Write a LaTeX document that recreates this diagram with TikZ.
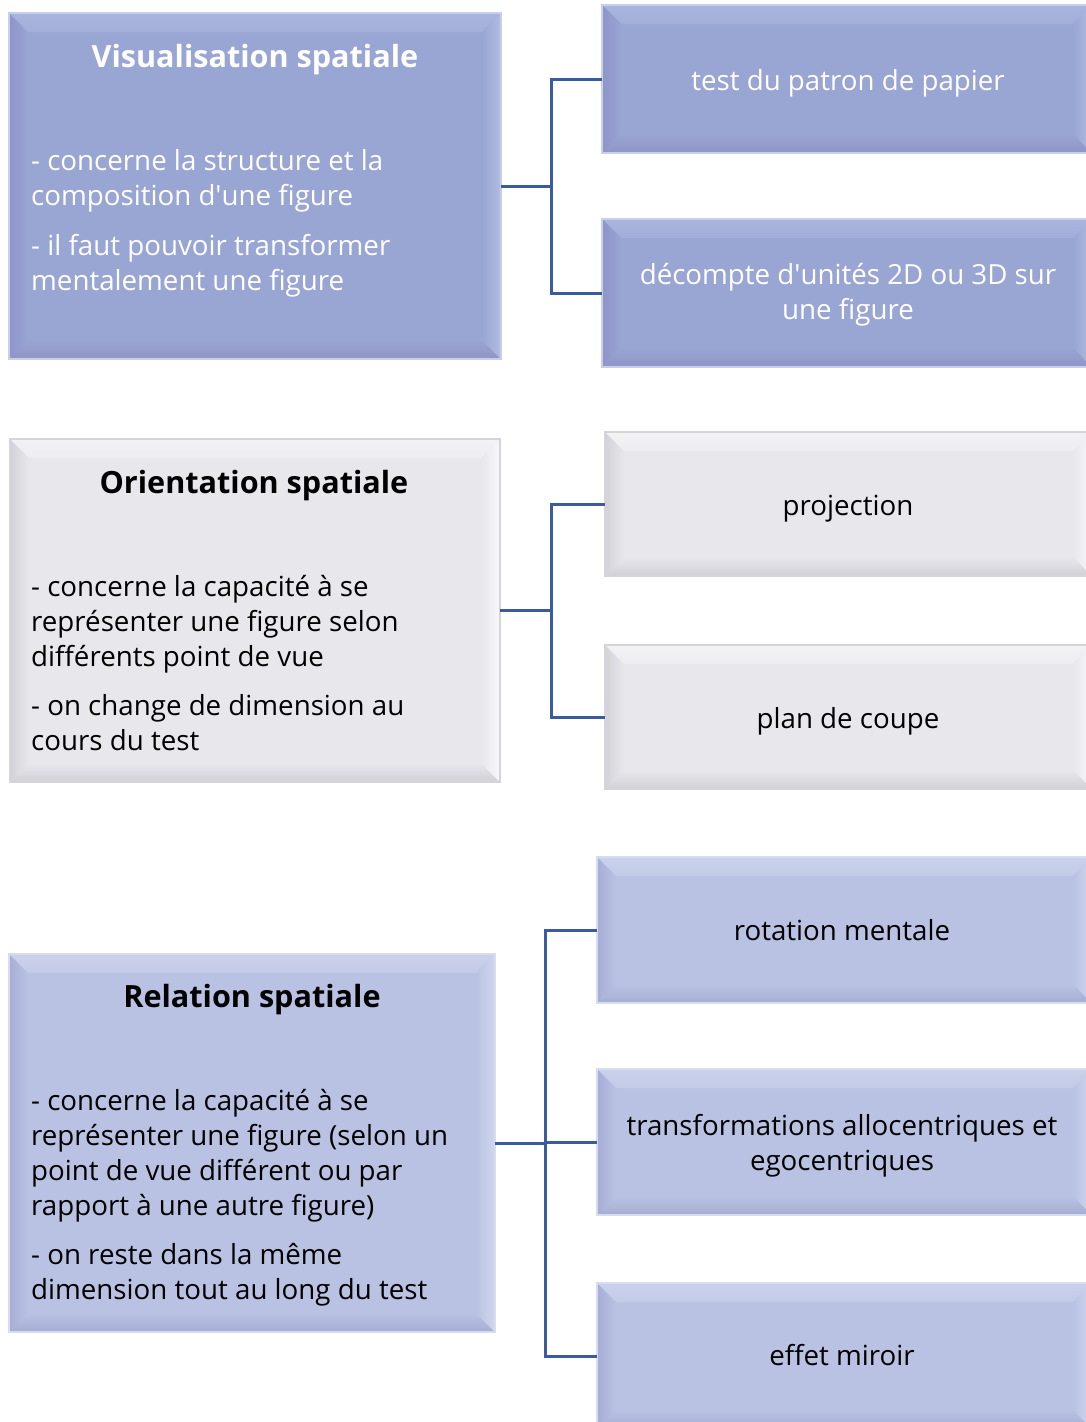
\documentclass[tikz,border=0pt]{standalone}
\usepackage{fontspec}
\setmainfont{Open Sans}
\usetikzlibrary{calc}
\definecolor{bAmain}{HTML}{99A5D3}
\definecolor{bAtop}{HTML}{A9B5DE}
\definecolor{bAleft}{HTML}{8E95C7}
\definecolor{bAbot}{HTML}{9095C6}
\definecolor{bAright}{HTML}{B2BDE2}
\definecolor{bAbord}{HTML}{C8CFEC}
\definecolor{bBmain}{HTML}{E8E7EC}
\definecolor{bBtop}{HTML}{F2F1F4}
\definecolor{bBleft}{HTML}{D3D2D8}
\definecolor{bBbot}{HTML}{D1D0D6}
\definecolor{bBright}{HTML}{F8F8FA}
\definecolor{bBbord}{HTML}{D4D4D9}
\definecolor{bCmain}{HTML}{B9C2E2}
\definecolor{bCtop}{HTML}{C9D1EB}
\definecolor{bCleft}{HTML}{A7AED6}
\definecolor{bCbot}{HTML}{A6ADD4}
\definecolor{bCright}{HTML}{CFD7EE}
\definecolor{bCbord}{HTML}{D6DCF1}
\definecolor{connc}{HTML}{3A5BA0}
\def\bv{19}
\newcommand\ap{\textquotesingle}
\newcommand\bevelbox[2]{%
  \fill[#2main] (#1.north west) rectangle (#1.south east);
  \shade[top color=#2top, bottom color=#2top!60!#2main]
    (#1.north west) -- (#1.north east) -- ($(#1.north east)+(-\bv,\bv)$) -- ($(#1.north west)+(\bv,\bv)$) -- cycle;
  \shade[left color=#2left, right color=#2main]
    (#1.north west) -- ($(#1.north west)+(\bv,\bv)$) -- ($(#1.south west)+(\bv,-\bv)$) -- (#1.south west) -- cycle;
  \shade[top color=#2main, bottom color=#2bot]
    (#1.south west) -- ($(#1.south west)+(\bv,-\bv)$) -- ($(#1.south east)+(-\bv,-\bv)$) -- (#1.south east) -- cycle;
  \shade[left color=#2main, right color=#2right]
    (#1.north east) -- (#1.south east) -- ($(#1.south east)+(-\bv,-\bv)$) -- ($(#1.north east)+(-\bv,\bv)$) -- cycle;
  \draw[#2bord, line width=1.5pt] (#1.north west) rectangle (#1.south east);
}
\tikzset{
  panel/.style={rectangle, inner sep=0pt, outer sep=0pt, anchor=north west},
  conn/.style={draw=connc, line width=3pt},
  body/.style={anchor=north west, inner sep=0pt, align=left, font=\fontsize{27.7}{35}\selectfont},
  ttl/.style={anchor=north, inner sep=0pt, font=\fontsize{30.6}{35}\selectfont\bfseries},
  lbl/.style={anchor=north, inner sep=0pt, align=center, font=\fontsize{27.7}{35}\selectfont},
}
\begin{document}
\begin{tikzpicture}[x=1pt,y=-1pt]
\useasboundingbox (0,0) rectangle (1086,1422);
\clip (0,0) rectangle (1086,1422);
\fill[white] (0,0) rectangle (1086,1422);
% boxes
\node[panel, minimum width=492pt, minimum height=346pt] (vis) at (9,13) {};
\node[panel, minimum width=490pt, minimum height=148pt] (tp) at (602,5) {};
\node[panel, minimum width=490pt, minimum height=148pt] (dc) at (602,219) {};
\node[panel, minimum width=490pt, minimum height=343pt] (ori) at (10,439) {};
\node[panel, minimum width=487pt, minimum height=144pt] (proj) at (605,432) {};
\node[panel, minimum width=487pt, minimum height=144pt] (plan) at (605,645) {};
\node[panel, minimum width=486pt, minimum height=378pt] (rel) at (9,954) {};
\node[panel, minimum width=495pt, minimum height=146pt] (rot) at (597,857) {};
\node[panel, minimum width=495pt, minimum height=146pt] (trans) at (597,1069) {};
\node[panel, minimum width=495pt, minimum height=146pt] (eff) at (597,1283) {};
\bevelbox{vis}{bA}
\bevelbox{tp}{bA}
\bevelbox{dc}{bA}
\bevelbox{ori}{bB}
\bevelbox{proj}{bB}
\bevelbox{plan}{bB}
\bevelbox{rel}{bC}
\bevelbox{rot}{bC}
\bevelbox{trans}{bC}
\bevelbox{eff}{bC}
% texts
\node[ttl, white] (vist) at (255,42.5) {\strut Visualisation spatiale};
\node[body, white] (visb) at (31,145.5) {\strut- concerne la structure et la\\composition d\ap une figure\\[15pt]- il faut pouvoir transformer\\mentalement une figure};
\node[lbl, white] (tpt) at (848,65.5) {\strut test du patron de papier};
\node[lbl, white] (dct) at (848,259.5) {\strut décompte d\ap unités 2D ou 3D sur\\une figure};
\node[ttl] (orit) at (254,468.5) {\strut Orientation spatiale};
\node[body] (orib) at (31,571.5) {\strut- concerne la capacité à se\\représenter une figure selon\\différents point de vue\\[14pt]- on change de dimension au\\cours du test};
\node[lbl] (projt) at (848,490.5) {\strut projection};
\node[lbl] (plant) at (848,703.5) {\strut plan de coupe};
\node[ttl] (relt) at (252,982.5) {\strut Relation spatiale};
\node[body] (relb) at (31,1085.5) {\strut- concerne la capacité à se\\représenter une figure (selon un\\point de vue différent ou par\\rapport à une autre figure)\\[14pt]- on reste dans la même\\dimension tout au long du test};
\node[lbl] (rott) at (842,915.5) {\strut rotation mentale};
\node[lbl] (transt) at (842,1110.5) {\strut transformations allocentriques et\\egocentriques};
\node[lbl] (efft) at (842,1340.5) {\strut effet miroir};
% connectors
\draw[conn] (vis.east) -- ++(50,0) coordinate (j1) |- (tp.west);
\draw[conn] (j1) |- (dc.west);
\draw[conn] (ori.east) -- ++(51,0) coordinate (j2) |- (proj.west);
\draw[conn] (j2) |- (plan.west);
\draw[conn] (rel.east) -- ++(50,0) coordinate (j3) |- (rot.west);
\draw[conn] (j3) |- (trans.west);
\draw[conn] (j3) |- (eff.west);
\end{tikzpicture}
\end{document}
